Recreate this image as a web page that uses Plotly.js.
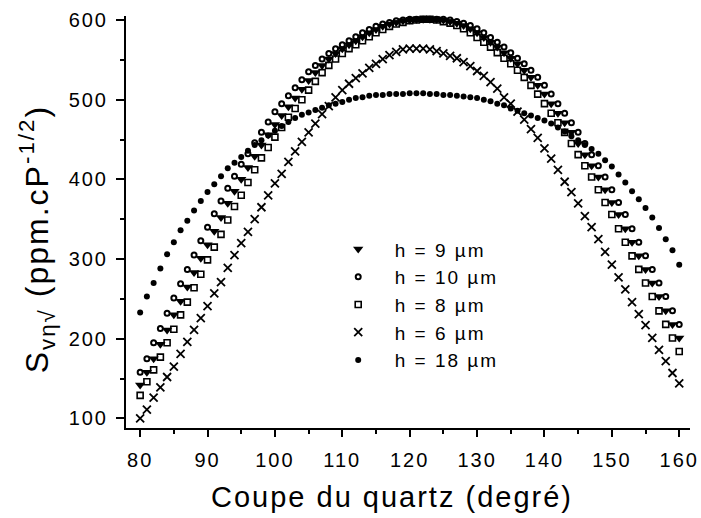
<!DOCTYPE html>
<html><head><meta charset="utf-8">
<script src="https://cdn.plot.ly/plotly-3.0.1.min.js"></script>
<style>
body{margin:0;background:#fff}
#chart{width:701px;height:518px}
svg text{letter-spacing:2px}
</style></head><body><div id="chart"></div>
<script>
// Angle (degrees) of the quartz cut
const angle = [80,81,82,83,84,85,86,87,88,89,90,91,92,93,94,95,96,97,98,99,
  100,101,102,103,104,105,106,107,108,109,110,111,112,113,114,115,116,117,118,119,
  120,121,122,123,124,125,126,127,128,129,130,131,132,133,134,135,136,137,138,139,
  140,141,142,143,144,145,146,147,148,149,150,151,152,153,154,155,156,157,158,159,160];

// h = 9 µm (filled down triangles)
const h9 = [142,158,175,193,211,230,247,265,283,301,
  318,335,352,370,385,400,415,429,443,456,
  469,480,491,502,513,524,534,543,551,558,
  564,569,574,579,584,588,592,595,597,599,
  600,601,601,601,601,600,598,596,593,589,
  584,578,572,566,559,552,545,537,528,518,
  507,495,483,471,459,445,431,417,403,387,
  371,356,338,321,304,287,270,253,235,218,201];

// h = 10 µm (open circles)
const h10 = [158,175,195,213,232,251,269,287,305,323,
  340,357,373,389,404,419,432,446,459,472,
  485,495,505,515,525,535,543,551,558,564,
  569,574,579,584,588,592,595,597,599,600,
  601,601,601,601,601,601,600,598,596,593,
  589,584,578,572,566,559,552,545,537,528,
  518,507,495,483,471,459,445,431,417,403,
  387,371,356,338,321,304,287,270,253,235,218];

// h = 8 µm (open squares)
const h8 = [129,146,161,177,195,212,230,246,264,281,
  299,315,331,349,366,380,396,412,427,440,
  453,465,478,489,500,512,523,534,543,551,
  558,564,569,574,579,584,588,592,595,597,
  599,600,601,601,600,598,596,593,589,584,
  578,572,566,559,552,545,537,528,518,507,
  495,483,471,459,445,431,417,403,387,371,
  356,338,321,304,287,270,253,235,218,201,184];

// h = 6 µm (crosses)
const h6 = [100,111,126,139,152,165,181,196,211,226,
  241,257,271,289,305,320,334,350,365,380,
  395,407,422,435,447,459,470,482,492,503,
  512,520,527,533,540,545,551,556,560,563,
  564,564,564,563,561,558,555,552,547,542,
  536,530,522,514,503,495,485,475,463,452,
  439,426,412,397,384,370,354,340,325,309,
  293,277,262,246,231,217,201,186,172,157,144];

// h = 18 µm (filled dots)
const h18 = [233,253,270,288,306,321,336,348,361,373,
  384,394,404,414,421,428,436,443,449,455,
  461,467,472,477,481,484,487,490,493,495,
  497,500,502,503,505,506,506,507,507,507,
  508,508,508,507,507,506,506,505,504,503,
  502,500,498,495,493,489,486,483,480,477,
  474,470,465,460,454,449,443,438,432,424,
  416,406,396,385,375,364,352,339,325,311,293];

const seriesNames = ['h = 9 µm','h = 10 µm','h = 8 µm','h = 6 µm','h = 18 µm'];
const xTickVals = [80,90,100,110,120,130,140,150,160];
const yTickVals = [100,200,300,400,500,600];
const xTitle = 'Coupe du quartz (degré)';
const yTitle = 'S<sub>vη√</sub> (ppm.cP<sup>-1/2</sup>)';

const FONT = 'Liberation Sans, Arial, sans-serif';
const mk = (y, name, marker) => ({x: angle, y: y, name: name, type: 'scatter', mode: 'markers',
  marker: marker, cliponaxis: false});

const traces = [
  mk(h9, seriesNames[0], {symbol: 'triangle-down', size: 9, color: '#000'}),
  mk(h10, seriesNames[1], {symbol: 'circle-open', size: 5, color: '#000', line: {width: 2, color: '#000'}}),
  mk(h8, seriesNames[2], {symbol: 'square-open', size: 6, color: '#000', line: {width: 1.6, color: '#000'}}),
  mk(h6, seriesNames[3], {symbol: 'x-thin-open', size: 8, color: '#000', line: {width: 1.8, color: '#000'}}),
  mk(h18, seriesNames[4], {symbol: 'circle', size: 6, color: '#000'})
];

const axisCommon = {
  showline: true, linecolor: '#000', linewidth: 2, mirror: false,
  showgrid: false, zeroline: false,
  ticks: 'outside', tickcolor: '#000', tickwidth: 2,
  tickfont: {family: FONT, size: 20, color: '#000'},
  minor: {ticks: 'outside', ticklen: 4, tickwidth: 2, tickcolor: '#000', showgrid: false}
};

const layout = {
  width: 701, height: 518,
  margin: {l: 126, r: 11, t: 16, b: 90},
  paper_bgcolor: '#fff', plot_bgcolor: '#fff',
  font: {family: FONT, color: '#000'},
  showlegend: true,
  legend: {x: 0.347, y: 0.48, xanchor: 'left', yanchor: 'top', bgcolor: 'rgba(0,0,0,0)',
    font: {family: FONT, size: 19, color: '#000'}, itemwidth: 63},
  xaxis: Object.assign({}, axisCommon, {
    range: [77.9, 161.6], tickmode: 'array', tickvals: xTickVals, ticklen: 7,
    ticklabelstandoff: 6,
    minor: Object.assign({}, axisCommon.minor, {dtick: 5, tick0: 80})
  }),
  yaxis: Object.assign({}, axisCommon, {
    range: [88, 605], tickmode: 'array', tickvals: yTickVals, ticklen: 8,
    ticklabelstandoff: 4,
    minor: Object.assign({}, axisCommon.minor, {dtick: 50, tick0: 0})
  }),
  annotations: [
    {text: xTitle, xref: 'paper', yref: 'paper', x: 0.4716, y: -0.168, xanchor: 'center', yanchor: 'middle',
      showarrow: false, font: {family: FONT, size: 29, color: '#000'}},
    {text: yTitle, xref: 'paper', yref: 'paper', x: -0.158, y: 0.46, xanchor: 'center', yanchor: 'middle',
      textangle: -90, showarrow: false, font: {family: FONT, size: 32, color: '#000'}}
  ]
};

Plotly.newPlot('chart', traces, layout, {displayModeBar: false, staticPlot: true});
</script></body></html>
